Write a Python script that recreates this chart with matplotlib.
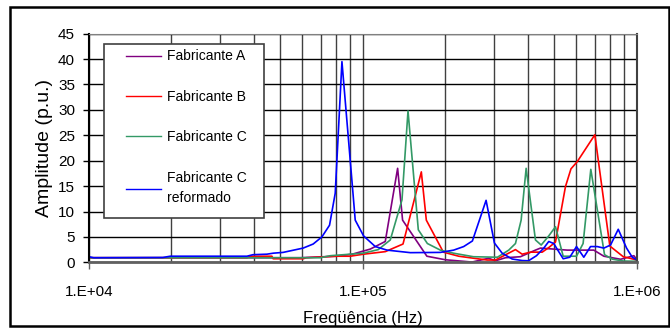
import matplotlib
matplotlib.use("Agg")
import matplotlib.pyplot as plt
from matplotlib.patches import Rectangle
from matplotlib.ticker import LogLocator, FixedLocator, NullFormatter

plt.rcParams['font.family'] = ['Liberation Sans', 'DejaVu Sans']

# Fabricante A
purple_f = [10000, 59000, 79900, 91400, 106300, 120600, 133800, 139500, 171100, 199800,
            250100, 287600, 304400, 331100, 375500, 426100, 444400, 556400, 695900, 757000,
            871300, 974300, 1000000]
purple_v = [0.9, 0.9, 1.2, 1.6, 2.6, 4.1, 18.5, 8.3, 1.2, 0.5,
            0.05, 0.8, 0.3, 0.9, 1.1, 2.4, 2.8, 2.4, 2.4, 1.2,
            0.6, 1.3, 0.5]

# Fabricante B
red_f = [10000, 37700, 38750, 46510, 47020, 60500, 62060, 80350, 89860, 100500,
         120600, 140000, 163300, 170300, 196500, 223600, 253600, 283900, 304400, 360200,
         381000, 408600, 450900, 476500, 504200, 548300, 574300, 605200, 701900, 796200,
         891200, 974300, 1000000]
red_v = [0.9, 0.9, 1.2, 1.2, 0.7, 0.7, 0.9, 1.2, 1.2, 1.6,
         2.1, 3.6, 17.8, 8.3, 2.0, 1.2, 0.8, 0.45, 0.45, 2.5,
         1.6, 2.0, 2.0, 2.9, 4.0, 14.9, 18.4, 19.8, 25.1, 3.2,
         1.1, 0.6, 0.4]

# Fabricante C
green_f = [10000, 69800, 76000, 89900, 100300, 113700, 125800, 138800, 146000, 159200,
           171800, 191600, 213800, 253000, 309600, 340400, 360200, 377800, 394000, 426100,
           447100, 476500, 504200, 537900, 601600, 635900, 678500, 761400, 814400, 893300,
           1000000]
green_v = [0.9, 0.9, 1.3, 1.6, 1.8, 2.5, 4.4, 12.3, 29.8, 6.4,
           3.7, 2.4, 1.8, 1.1, 1.0, 2.4, 3.7, 8.3, 18.5, 4.4,
           3.4, 5.2, 7.0, 1.2, 1.2, 3.7, 18.3, 1.5, 0.6, 0.25,
           0.2]

# Fabricante C reformado
blue_f = [10000, 10400, 18600, 19800, 37700, 39700, 44600, 47100, 51100, 60500,
          65800, 70800, 75500, 79200, 83800, 93700, 100500, 110900, 122400, 148900,
          191600, 214300, 233100, 250800, 281400, 301800, 322000, 350300, 381000, 401800,
          429800, 456900, 476500, 497000, 514000, 537900, 568600, 601600, 639700, 676800,
          716000, 757000, 800900, 854400, 916200, 961200, 1000000]
blue_v = [1.1, 0.9, 0.95, 1.2, 1.2, 1.5, 1.6, 1.8, 1.95, 2.8,
          3.6, 5.0, 7.3, 13.6, 39.5, 8.3, 5.2, 3.1, 2.4, 1.9,
          1.95, 2.4, 3.1, 4.2, 12.2, 3.8, 1.8, 0.65, 0.35, 0.3,
          1.3, 2.8, 4.1, 3.7, 2.4, 0.7, 1.0, 3.1, 1.0, 3.1,
          3.1, 2.8, 3.4, 6.5, 2.8, 1.0, 0.45]

series = [
    ("Fabricante A", purple_f, purple_v, "#800080"),
    ("Fabricante B", red_f, red_v, "#FF0000"),
    ("Fabricante C", green_f, green_v, "#339966"),
    ("Fabricante C\nreformado", blue_f, blue_v, "#0000FF"),
]

x_ticks = [1e4, 1e5, 1e6]
x_tick_labels = ["1.E+04", "1.E+05", "1.E+06"]
y_ticks = list(range(0, 46, 5))

fig = plt.figure(figsize=(6.7, 3.29), dpi=100)
ax = fig.add_axes([0.1328, 0.2027, 0.8179, 0.6949])

for label, f, v, color in series:
    ax.plot(f, v, color=color, lw=1.2, label=label)

ax.set_xscale("log")
ax.set_xlim(1e4, 1e6)
ax.set_ylim(0, 45)

ax.xaxis.set_major_locator(FixedLocator(x_ticks))
ax.set_xticklabels(x_tick_labels)
ax.xaxis.set_minor_locator(LogLocator(base=10, subs=range(2, 10)))
ax.xaxis.set_minor_formatter(NullFormatter())
ax.set_yticks(y_ticks)

ax.tick_params(axis="x", which="major", length=5, width=1, color="#606060",
               labelsize=11, pad=11)
ax.tick_params(axis="x", which="minor", length=0)
ax.tick_params(axis="y", length=4, width=1, labelsize=11, pad=6)

ax.grid(True, which="both", axis="x", color="#404040", lw=1.0)
ax.grid(True, which="major", axis="y", color="#000000", lw=1.0)
ax.set_axisbelow(True)

ax.spines["bottom"].set_color("#606060")
ax.spines["bottom"].set_linewidth(2)
ax.spines["left"].set_color("black")
ax.spines["left"].set_linewidth(1.5)
ax.spines["top"].set_color("#808080")
ax.spines["right"].set_color("#404040")
ax.spines["right"].set_linewidth(1.5)

ax.set_xlabel("Freqüência (Hz)", fontsize=12, labelpad=9)
ax.set_ylabel("Amplitude (p.u.)", fontsize=14, labelpad=4)

# legend box drawn separately (Excel style, wide left padding)
ax.add_patch(Rectangle((0.0274, 0.192), 0.292, 0.764, transform=ax.transAxes,
                       facecolor="white", edgecolor="#404040", lw=1.2, zorder=5))
leg = ax.legend(loc="upper left", bbox_to_anchor=(0.068, 0.931), frameon=False,
                fontsize=10, handlelength=2.5, handletextpad=0.4,
                labelspacing=1.9, borderpad=0, borderaxespad=0)
leg.set_zorder(6)
for h in leg.get_lines():
    h.set_linewidth(1.0)
leg.get_texts()[3].set_linespacing(1.6)

# outer chart border
fig.patches.append(Rectangle((0.0149, 0.0091), 0.9836, 0.9696, transform=fig.transFigure,
                             fill=False, edgecolor="black", lw=1.8))

fig.savefig("out.png", dpi=100)
